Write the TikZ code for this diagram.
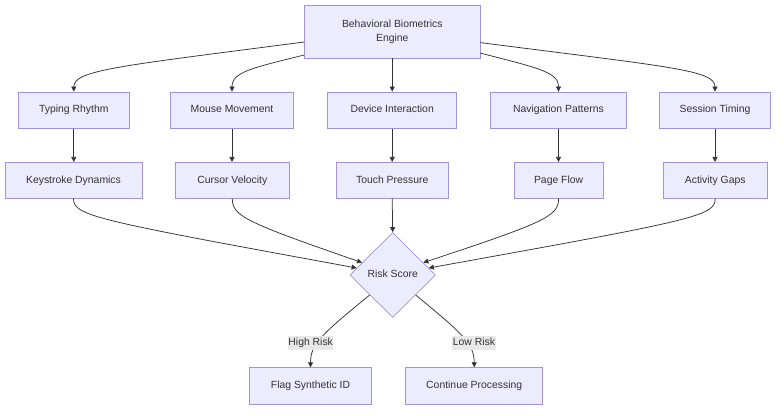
\documentclass[tikz,border=0pt]{standalone}
\usepackage{fontspec}
\setmainfont{Liberation Sans}
\usetikzlibrary{shapes.geometric,arrows.meta}
\definecolor{nodefill}{HTML}{ECECFF}
\definecolor{nodeline}{HTML}{A292DC}
\definecolor{edgecol}{HTML}{333333}
\definecolor{lblbg}{HTML}{E8E8E8}
\begin{document}
\begin{tikzpicture}[x=1pt,y=-1pt,
  txt/.style={text=edgecol,font=\fontsize{10.4}{13.5}\selectfont},
  box/.style={txt,draw=nodeline,fill=nodefill,line width=0.7pt,inner sep=0pt,align=center,text height=7.6pt,text depth=2.2pt},
  dia/.style={txt,diamond,draw=nodeline,fill=nodefill,line width=0.7pt,inner sep=0pt,minimum width=85.6pt,minimum height=85pt,text height=7.6pt,text depth=2.2pt},
  edge/.style={draw=edgecol,line width=0.75pt,-{Triangle[length=5pt,width=5pt]}},
  lbl/.style={txt,fill=lblbg,inner xsep=0.5pt,inner ysep=0pt,minimum height=14pt,text height=7.6pt,text depth=2.2pt}]
\useasboundingbox (0,0) rectangle (784,415);
% nodes
\node[box,minimum width=175.5pt,minimum height=53pt,text height=,text depth=] (top) at (392.3,31.6) {Behavioral Biometrics\\Engine};
\node[box,minimum width=111.7pt,minimum height=36.5pt] (tr) at (73.8,110.2) {Typing Rhythm};
\node[box,minimum width=123.4pt,minimum height=36.5pt] (mm) at (232,110.2) {Mouse Movement};
\node[box,minimum width=129pt,minimum height=36.5pt] (di) at (392.2,110.2) {Device Interaction};
\node[box,minimum width=135.6pt,minimum height=36.5pt] (np) at (558.5,110.2) {Navigation Patterns};
\node[box,minimum width=110.6pt,minimum height=36.5pt] (st) at (715,110.2) {Session Timing};
\node[box,minimum width=136.7pt,minimum height=36pt] (kd) at (73.5,180.3) {Keystroke Dynamics};
\node[box,minimum width=114pt,minimum height=36pt] (cv) at (232.3,180.3) {Cursor Velocity};
\node[box,minimum width=112.2pt,minimum height=36pt] (tp) at (392.2,180.3) {Touch Pressure};
\node[box,minimum width=89.3pt,minimum height=36pt] (pf) at (558.6,180.3) {Page Flow};
\node[box,minimum width=104.3pt,minimum height=36pt] (ag) at (715.2,180.3) {Activity Gaps};
\node[dia] (rs) at (392.7,275) {Risk Score};
\node[box,minimum width=122.4pt,minimum height=36.6pt] (fs) at (310.5,386) {Flag Synthetic ID};
\node[box,minimum width=137pt,minimum height=36.6pt] (cp) at (474.2,386) {Continue Processing};
% top edges
\draw[edge] ([yshift=-10.4pt]top.west) .. controls (120,66) and (73.8,70) .. (tr.north);
\draw[edge] ([yshift=-23.4pt]top.west) .. controls (252,68) and (232,72) .. (mm.north);
\draw[edge] (top.south -| di.north) -- (di.north);
\draw[edge] ([yshift=-21.5pt]top.east) .. controls (538,68) and (558.5,72) .. (np.north);
\draw[edge] ([yshift=-11pt]top.east) .. controls (670,67) and (715,70) .. (st.north);
% vertical edges
\draw[edge] (tr.south) -- (kd.north -| tr.south);
\draw[edge] (mm.south) -- (cv.north -| mm.south);
\draw[edge] (di.south) -- (tp.north -| di.south);
\draw[edge] (np.south) -- (pf.north -| np.south);
\draw[edge] (st.south) -- (ag.north -| st.south);
% into diamond
\draw[edge] (kd.south) .. controls (73.5,216) and (95,220) .. (rs.169);
\draw[edge] (cv.south) .. controls (232.3,216) and (245,222) .. (rs.158);
\draw[edge] (tp.south) -- (rs.north);
\draw[edge] (pf.south) .. controls (558.6,216) and (546,222) .. (rs.22);
\draw[edge] (ag.south) .. controls (715.2,216) and (695,220) .. (rs.11);
% out of diamond
\draw[edge] (rs.221) .. controls (322,334) and (310.5,344) .. (fs.north);
\draw[edge] (rs.319) .. controls (463,334) and (474.2,344) .. (cp.north);
\node[lbl] (hr) at (310.7,342.5) {High Risk};
\node[lbl] (lr) at (474,342.5) {Low Risk};
\end{tikzpicture}
\end{document}
